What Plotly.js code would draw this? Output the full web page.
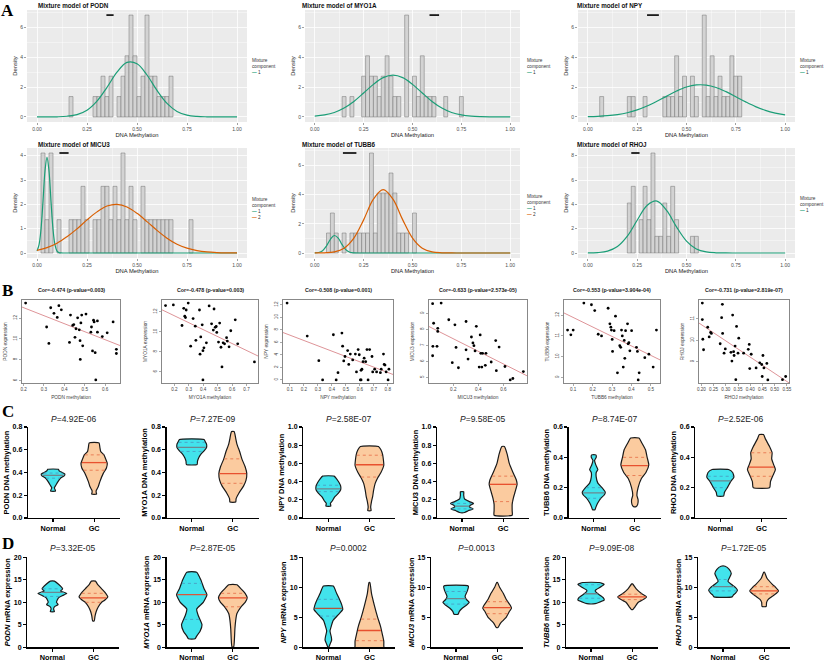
<!DOCTYPE html>
<html><head><meta charset="utf-8">
<script src="https://cdn.plot.ly/plotly-3.0.1.min.js"></script>
<style>html,body{margin:0;padding:0;background:#fff}#chart{width:824px;height:663px}</style>
</head><body><div id="chart"></div>
<script>
// ================= DATA =================
const genes = ['PODN','MYO1A','NPY','MICU3','TUBB6','RHOJ'];

// ---- Panel A: histograms (bin centres, density) ----
const binWidth = 0.02;
const histX_PODN = [0.17,0.29,0.31,0.33,0.35,0.37,0.41,0.43,0.45,0.47,0.49,0.51,0.53,0.55,0.57,0.59,0.61,0.63,0.65,0.67];
const histD_PODN = [1.37,1.37,1.37,2.74,1.37,2.74,1.37,2.74,4.11,6.85,4.11,1.37,2.74,6.85,2.74,2.74,1.37,1.37,1.37,2.74];
const histX_MYO1A = [0.15,0.19,0.25,0.27,0.29,0.31,0.33,0.35,0.37,0.39,0.41,0.43,0.47,0.51,0.53,0.55,0.57,0.59,0.61,0.67,0.75];
const histD_MYO1A = [1.37,1.37,2.74,4.11,2.74,2.74,1.37,2.74,4.11,2.74,1.37,1.37,6.85,2.74,1.37,4.11,1.37,1.37,1.37,1.37,1.37];
const histX_NPY = [0.07,0.21,0.23,0.29,0.39,0.41,0.43,0.45,0.47,0.49,0.53,0.55,0.59,0.61,0.63,0.65,0.67,0.69,0.71,0.73,0.75,0.77];
const histD_NPY = [1.37,1.37,1.37,1.37,1.37,1.37,1.37,4.11,1.37,2.74,2.74,1.37,6.85,1.37,4.11,1.37,2.74,1.37,1.37,4.11,2.74,2.74];
const histX_MICU3 = [0.03,0.05,0.07,0.11,0.17,0.19,0.21,0.23,0.25,0.29,0.31,0.33,0.35,0.37,0.39,0.41,0.43,0.45,0.47,0.49,0.53,0.55,0.57,0.59,0.61,0.63,0.65,0.67,0.77];
const histD_MICU3 = [4.11,1.37,4.11,1.37,1.37,1.37,1.37,2.74,1.37,1.37,1.37,2.74,2.74,1.37,2.74,1.37,4.11,1.37,2.74,1.37,2.74,1.37,1.37,1.37,1.37,1.37,1.37,1.37,1.37];
const histX_TUBB6 = [0.07,0.09,0.11,0.15,0.19,0.21,0.23,0.25,0.27,0.29,0.31,0.33,0.35,0.37,0.39,0.41,0.43,0.45,0.47,0.51];
const histD_TUBB6 = [1.37,2.74,1.37,1.37,1.37,1.37,1.37,1.37,1.37,6.85,1.37,4.11,4.11,4.11,5.48,4.11,1.37,1.37,1.37,2.74];
const histX_RHOJ = [0.21,0.23,0.27,0.29,0.31,0.33,0.35,0.37,0.39,0.41,0.43,0.45,0.53,0.55];
const histD_RHOJ = [4.11,5.48,2.74,5.48,2.74,8.22,1.37,1.37,4.11,1.37,5.48,2.74,1.37,1.37];

// ---- Panel A: mixture component density curves ----
const xGrid = [0,0.05,0.1,0.15,0.2,0.25,0.3,0.35,0.4,0.45,0.5,0.55,0.6,0.65,0.7,0.75,0.8,0.85,0.9,0.95,1];
const curvePODN_1  = [0,0.002,0.009,0.043,0.155,0.45,1.06,1.99,3.01,3.67,3.58,2.82,1.78,0.91,0.37,0.12,0.032,0.007,0.001,0,0];
const curveMYO1A_1 = [0.053,0.135,0.30,0.60,1.04,1.61,2.19,2.64,2.81,2.64,2.19,1.61,1.04,0.60,0.30,0.135,0.053,0.019,0.006,0.002,0];
const curveNPY_1   = [0.018,0.039,0.08,0.156,0.28,0.47,0.73,1.05,1.40,1.74,2.01,2.15,2.14,1.98,1.70,1.36,1.01,0.69,0.44,0.26,0.14];
const curveMICU3_1x = [0,0.01,0.02,0.03,0.04,0.05,0.06,0.07,0.08,0.09,0.10,0.11,0.12,0.14,0.2,0.3,0.4,0.5,0.6,0.7,0.8,0.9,1.0];
const curveMICU3_1  = [0.08,0.33,0.98,2.12,3.37,3.93,3.37,2.12,0.98,0.33,0.08,0.015,0.002,0,0,0,0,0,0,0,0,0,0];
const curveMICU3_2  = [0.11,0.22,0.40,0.67,0.99,1.36,1.69,1.93,2.0,1.89,1.63,1.29,0.93,0.61,0.36,0.2,0.10,0.045,0.019,0.007,0.002];
const curveTUBB6_1x = [0,0.02,0.04,0.06,0.08,0.10,0.12,0.14,0.16,0.18,0.20,0.25,0.3,0.4,0.5,0.6,0.7,0.8,0.9,1.0];
const curveTUBB6_1  = [0.005,0.036,0.16,0.48,0.94,1.2,1.02,0.57,0.21,0.05,0.008,0,0,0,0,0,0,0,0,0];
const curveTUBB6_2  = [0.002,0.013,0.077,0.33,1.02,2.27,3.69,4.34,3.69,2.27,1.02,0.33,0.077,0.013,0.002,0,0,0,0,0,0];
const curveRHOJ_1   = [0.005,0.033,0.154,0.53,1.38,2.69,3.91,4.27,3.48,2.13,0.98,0.33,0.086,0.017,0.003,0,0,0,0,0,0];
// short black segments at the top of each histogram
const segStart = [0.347,0.587,0.30,0.112,0.144,0.22];
const segEnd   = [0.383,0.636,0.36,0.158,0.213,0.262];

// ---- Panel B: scatter (methylation vs expression) ----
const corTitles = ['Cor=-0.474 (p-value=0.003)','Cor=-0.478 (p-value=0.003)','Cor=-0.508 (p-value=0.001)',
                   'Cor=-0.633 (p-value=2.573e-05)','Cor=-0.553 (p-value=3.904e-04)','Cor=-0.731 (p-value=2.819e-07)'];
const scatX_PODN = [0.21,0.313,0.324,0.333,0.349,0.365,0.373,0.385,0.425,0.43,0.441,0.446,0.452,0.457,0.465,0.473,0.477,0.478,0.481,0.485,0.49,0.506,0.53,0.533,0.538,0.543,0.546,0.551,0.554,0.562,0.562,0.586,0.61,0.639,0.655,0.655];
const scatY_PODN = [13.45,11.15,9.57,13.0,12.46,12.07,13.2,12.8,9.67,12.3,11.3,11.38,10.16,10.98,12.03,10.88,9.83,8.03,11.54,12.3,9.34,12.39,10.65,11.15,8.85,11.8,11.64,8.68,6.06,10.65,11.73,10.23,10.59,11.64,9.0,8.6];
const scatX_MYO1A = [0.139,0.193,0.253,0.265,0.272,0.277,0.282,0.296,0.313,0.330,0.345,0.349,0.374,0.378,0.383,0.393,0.398,0.405,0.422,0.441,0.458,0.470,0.475,0.483,0.49,0.494,0.506,0.514,0.523,0.530,0.538,0.548,0.562,0.567,0.579,0.591,0.622,0.639,0.755,0.398];
const scatY_MYO1A = [12.62,12.69,10.63,12.35,11.56,11.42,12.18,12.87,8.57,11.32,10.56,9.15,12.18,7.77,9.49,10.7,8.12,8.4,8.9,12.59,10.8,10.18,12.28,10.45,10.53,9.94,8.98,10.87,8.46,6.5,8.9,8.8,9.42,9.08,8.5,10.11,11.2,8.8,7.0,5.2];
const scatX_NPY = [0.080,0.224,0.307,0.334,0.411,0.431,0.444,0.472,0.477,0.485,0.494,0.513,0.521,0.532,0.549,0.568,0.576,0.588,0.596,0.604,0.609,0.609,0.615,0.623,0.631,0.642,0.651,0.659,0.670,0.687,0.692,0.706,0.720,0.747,0.753,0.769,0.774,0.780,0.788,0.802,0.808];
const scatY_NPY = [12.27,7.0,3.08,0,7.21,0,1.16,7.48,5.39,3.03,3.74,4.68,2.48,4.13,3.19,4.13,1.27,4.84,4.02,0,0,1.54,1.71,2.92,3.47,2.92,4.84,0,4.84,3.74,1.27,1.71,1.27,1.16,1.71,4.13,2.48,2.37,1.27,0,1.71];
const scatX_MICU3 = [0.035,0.043,0.076,0.076,0.103,0.037,0.035,0.070,0.164,0.192,0.213,0.222,0.241,0.302,0.302,0.318,0.345,0.357,0.365,0.374,0.384,0.407,0.415,0.420,0.428,0.434,0.456,0.461,0.503,0.539,0.544,0.566,0.613,0.655,0.676,0.76];
const scatY_MICU3 = [9.61,8.39,8.07,7.88,9.65,6.95,6.36,6.95,8.61,5.93,8.29,6.88,5.61,8.5,6.73,6.15,7.53,7.16,6.99,6.66,8.2,5.65,7.66,6.51,5.65,6.51,5.76,6.51,5.97,7.31,5.43,6.9,5.69,4.85,4.94,5.37];
const scatX_TUBB6 = [0.071,0.088,0.1,0.155,0.194,0.211,0.229,0.246,0.280,0.289,0.294,0.297,0.301,0.303,0.311,0.318,0.328,0.340,0.345,0.349,0.353,0.358,0.363,0.366,0.370,0.380,0.383,0.387,0.392,0.401,0.426,0.431,0.435,0.440,0.469,0.490,0.512,0.529];
const scatY_TUBB6 = [11.28,11.05,11.28,12.58,12.5,12.22,11.08,11.0,12.33,11.58,11.42,11.28,10.83,10.25,11.25,11.95,9.22,10.53,10.45,11.28,11.0,9.5,10.78,9.92,11.25,11.58,10.62,10.67,10.28,11.25,10.45,10.25,8.88,9.22,9.95,10.12,9.5,11.28];
const scatX_RHOJ = [0.204,0.204,0.206,0.209,0.226,0.232,0.238,0.241,0.277,0.283,0.286,0.287,0.293,0.298,0.321,0.325,0.328,0.332,0.334,0.338,0.341,0.344,0.350,0.353,0.373,0.392,0.396,0.398,0.404,0.424,0.439,0.447,0.449,0.452,0.456,0.468,0.472,0.532,0.545];
const scatY_RHOJ = [11.74,10.97,10.05,9.56,10.61,10.16,10.37,10.32,9.84,11.06,11.68,10.32,9.4,9.6,9.44,9.03,11.18,9.47,9.29,9.73,8.16,10.65,9.4,10.1,9.4,9.58,9.81,8.68,9.35,8.71,8.95,8.87,8.31,9.29,8.71,8.92,8.15,8.16,8.31];

// ---- Panels C & D: violin outlines (value levels, half-widths) and quartiles [Q1, median, Q3] ----
const groups = ['Normal','GC'];
const cPvalues = ['4.92E-06','7.27E-09','2.58E-07','9.58E-05','8.74E-07','2.52E-06'];
const dPvalues = ['3.32E-05','2.87E-05','0.0002','0.0013','9.09E-08','1.72E-05'];

const vC_PODN_N_y = [0.236,0.25,0.265,0.29,0.32,0.35,0.37,0.385,0.40,0.415,0.428];
const vC_PODN_N_w = [0.06,0.05,0.03,0.07,0.12,0.18,0.27,0.29,0.22,0.15,0.13];
const vC_PODN_N_q = [0.35,0.375,0.395];
const vC_PODN_G_y = [0.21,0.225,0.24,0.275,0.32,0.39,0.44,0.48,0.52,0.555,0.585,0.62,0.66];
const vC_PODN_G_w = [0.06,0.05,0.05,0.10,0.14,0.22,0.30,0.32,0.28,0.24,0.16,0.14,0.12];
const vC_PODN_G_q = [0.42,0.487,0.555];
const vC_MYO1A_N_y = [0.47,0.50,0.53,0.56,0.59,0.62,0.65,0.67,0.69];
const vC_MYO1A_N_w = [0.13,0.14,0.17,0.22,0.30,0.36,0.36,0.33,0.30];
const vC_MYO1A_N_q = [0.585,0.62,0.665];
const vC_MYO1A_G_y = [0.14,0.17,0.22,0.28,0.33,0.39,0.45,0.52,0.58,0.65,0.70,0.74,0.76];
const vC_MYO1A_G_w = [0.07,0.08,0.15,0.26,0.32,0.34,0.30,0.22,0.17,0.10,0.07,0.05,0.03];
const vC_MYO1A_G_q = [0.305,0.39,0.52];
const vC_NPY_N_y = [0.13,0.16,0.19,0.23,0.27,0.31,0.35,0.39,0.43,0.46];
const vC_NPY_N_w = [0.06,0.05,0.10,0.15,0.24,0.30,0.30,0.26,0.20,0.14];
const vC_NPY_N_q = [0.29,0.32,0.36];
const vC_NPY_G_y = [0.08,0.12,0.18,0.24,0.30,0.38,0.44,0.50,0.58,0.64,0.70,0.75,0.786];
const vC_NPY_G_w = [0.04,0.03,0.05,0.08,0.10,0.14,0.20,0.28,0.35,0.34,0.32,0.28,0.22];
const vC_NPY_G_q = [0.45,0.585,0.69];
const vC_MICU3_N_y = [0.06,0.08,0.10,0.12,0.14,0.16,0.18,0.21,0.25,0.288];
const vC_MICU3_N_w = [0.06,0.15,0.27,0.18,0.20,0.28,0.18,0.06,0.04,0.04];
const vC_MICU3_N_q = [0.10,0.13,0.16];
const vC_MICU3_G_y = [0.03,0.08,0.15,0.22,0.30,0.37,0.42,0.50,0.60,0.70,0.786];
const vC_MICU3_G_w = [0.22,0.22,0.22,0.25,0.30,0.34,0.32,0.24,0.15,0.10,0.03];
const vC_MICU3_G_q = [0.18,0.37,0.46];
const vC_TUBB6_N_y = [0.055,0.07,0.10,0.13,0.15,0.17,0.20,0.23,0.27,0.30,0.32,0.35,0.38,0.40,0.416];
const vC_TUBB6_N_w = [0.03,0.05,0.10,0.17,0.25,0.28,0.20,0.10,0.06,0.06,0.10,0.05,0.02,0.06,0.05];
const vC_TUBB6_N_q = [0.13,0.165,0.20];
const vC_TUBB6_G_y = [0.075,0.09,0.12,0.15,0.20,0.26,0.30,0.35,0.40,0.45,0.50,0.527];
const vC_TUBB6_G_w = [0.03,0.07,0.08,0.05,0.08,0.16,0.27,0.34,0.30,0.26,0.16,0.10];
const vC_TUBB6_G_q = [0.28,0.345,0.40];
const vC_RHOJ_N_y = [0.145,0.17,0.20,0.24,0.27,0.30,0.32];
const vC_RHOJ_N_w = [0.08,0.10,0.17,0.25,0.33,0.30,0.20];
const vC_RHOJ_N_q = [0.20,0.245,0.275];
const vC_RHOJ_G_y = [0.20,0.24,0.28,0.32,0.35,0.39,0.43,0.47,0.52,0.55];
const vC_RHOJ_G_w = [0.20,0.22,0.28,0.34,0.30,0.25,0.26,0.20,0.10,0.05];
const vC_RHOJ_G_q = [0.275,0.335,0.43];

const vD_PODN_N_y = [7.9,8.5,9.0,9.5,10.0,11.0,11.5,12.0,12.5,13.0,14.0,14.7];
const vD_PODN_N_w = [0.05,0.03,0.05,0.14,0.10,0.15,0.25,0.35,0.20,0.25,0.15,0.05];
const vD_PODN_N_q = [11.3,12.2,13.0];
const vD_PODN_G_y = [5.9,7.0,8.0,9.0,10.0,10.5,11.2,12.0,13.0,14.0,14.7];
const vD_PODN_G_w = [0.02,0.04,0.07,0.12,0.20,0.28,0.35,0.30,0.20,0.10,0.05];
const vD_PODN_G_q = [10.0,11.0,12.0];
const vD_MYO1A_N_y = [1.9,2.5,3.5,5.0,7.0,8.5,10.0,11.7,13.0,15.0,16.7];
const vD_MYO1A_N_w = [0.08,0.12,0.20,0.25,0.16,0.12,0.28,0.37,0.30,0.22,0.12];
const vD_MYO1A_N_q = [6.2,11.7,14.2];
const vD_MYO1A_G_y = [0.1,2.0,4.0,6.0,7.5,9.0,10.0,11.0,12.0,13.0,13.9];
const vD_MYO1A_G_w = [0.02,0.04,0.05,0.07,0.10,0.20,0.30,0.35,0.30,0.20,0.10];
const vD_MYO1A_G_q = [9.0,11.0,12.0];
const vD_NPY_N_y = [0.0,0.5,1.2,1.8,2.7,3.5,4.5,5.5,6.3,7.0,8.0,9.0,10.2];
const vD_NPY_N_w = [0.01,0.04,0.08,0.07,0.04,0.07,0.12,0.25,0.35,0.33,0.27,0.20,0.12];
const vD_NPY_N_q = [5.2,6.5,8.0];
const vD_NPY_G_y = [0.0,0.3,1.0,2.0,3.5,5.0,7.0,9.0,10.8];
const vD_NPY_G_w = [0.35,0.35,0.35,0.32,0.27,0.20,0.12,0.05,0.01];
const vD_NPY_G_q = [1.1,2.8,4.7];
const vD_MICU3_N_y = [5.5,6.0,6.5,7.0,7.5,8.0,8.5,9.5,10.2];
const vD_MICU3_N_w = [0.05,0.08,0.15,0.25,0.32,0.25,0.22,0.28,0.30];
const vD_MICU3_N_q = [7.2,8.1,9.3];
const vD_MICU3_G_y = [3.3,4.0,4.5,5.0,6.0,6.5,7.0,8.0,9.0,10.0,10.8];
const vD_MICU3_G_w = [0.02,0.08,0.15,0.22,0.30,0.35,0.32,0.22,0.15,0.06,0.01];
const vD_MICU3_G_q = [5.6,6.6,7.6];
const vD_TUBB6_N_y = [9.7,10.0,10.5,11.0,12.0,12.5,12.8,13.5,14.0,14.4];
const vD_TUBB6_N_w = [0.10,0.20,0.32,0.30,0.15,0.10,0.12,0.25,0.32,0.20];
const vD_TUBB6_N_q = [10.9,11.9,13.9];
const vD_TUBB6_G_y = [8.4,9.0,10.0,10.5,11.2,12.0,13.0,14.1];
const vD_TUBB6_G_w = [0.02,0.07,0.15,0.25,0.35,0.22,0.10,0.01];
const vD_TUBB6_G_q = [10.6,11.2,11.8];
const vD_RHOJ_N_y = [8.4,8.7,9.0,9.5,10.0,10.5,11.0,11.5,12.3,13.0,13.5];
const vD_RHOJ_N_w = [0.22,0.25,0.30,0.35,0.30,0.20,0.12,0.15,0.20,0.15,0.05];
const vD_RHOJ_N_q = [9.4,10.1,11.3];
const vD_RHOJ_G_y = [6.8,7.5,8.0,8.5,9.0,9.4,10.0,10.5,11.5,12.5];
const vD_RHOJ_G_w = [0.05,0.06,0.10,0.20,0.30,0.35,0.28,0.20,0.07,0.01];
const vD_RHOJ_G_q = [8.9,9.4,10.1];

// ================= BUILD =================
const W = 824, H = 663;
const GREEN = '#1B9E77', ORANGE = '#D95F02';
const traces = [];
const layout = {
  width: W, height: H, margin: {l:0, r:0, t:0, b:0, pad:0},
  paper_bgcolor: '#ffffff', plot_bgcolor: 'rgba(0,0,0,0)', showlegend: false,
  font: {family: '"Liberation Sans", Arial, sans-serif', color: '#000'},
  annotations: [], shapes: [], bargap: 0
};
function ref(i, c){ return c + (i === 1 ? '' : String(i)); }
function key(i, c){ return c + 'axis' + (i === 1 ? '' : String(i)); }
function domX(a, b){ return [a / W, b / W]; }
function domY(top, bot){ return [1 - bot / H, 1 - top / H]; }
function note(x, y, text, font, extra){
  layout.annotations.push(Object.assign({xref:'paper', yref:'paper', x: x / W, y: 1 - y / H, text: text,
    showarrow:false, font: font, xanchor:'center', yanchor:'middle'}, extra || {}));
}

// ---------- Panel A ----------
const aHistX = [histX_PODN, histX_MYO1A, histX_NPY, histX_MICU3, histX_TUBB6, histX_RHOJ];
const aHistD = [histD_PODN, histD_MYO1A, histD_NPY, histD_MICU3, histD_TUBB6, histD_RHOJ];
const aCurves = [
  [{x:xGrid, y:curvePODN_1, c:GREEN}],
  [{x:xGrid, y:curveMYO1A_1, c:GREEN}],
  [{x:xGrid, y:curveNPY_1, c:GREEN}],
  [{x:curveMICU3_1x, y:curveMICU3_1, c:GREEN}, {x:xGrid, y:curveMICU3_2, c:ORANGE}],
  [{x:curveTUBB6_1x, y:curveTUBB6_1, c:GREEN}, {x:xGrid, y:curveTUBB6_2, c:ORANGE}],
  [{x:xGrid, y:curveRHOJ_1, c:GREEN}]
];
const aBoxes = [[27,247,10,122],[305,520,10,122],[578,795,10,122],[27,247,148,258],[305,520,148,258],[578,795,148,258]];
const aTitleX = [36,300,575,36,300,575];
const aTitleY = [6,6,6,144,144,144];
const aLegX = [250,525,798,250,525,798];
const aLegTop = [56,56,56,194.5,192,194];
const aYdtick = [2,2,2,1,2,2];

for (let k = 0; k < 6; k++) {
  const i = k + 1, xa = ref(i,'x'), ya = ref(i,'y');
  traces.push({type:'bar', x:aHistX[k], y:aHistD[k], width:binWidth, xaxis:xa, yaxis:ya,
    marker:{color:'#D3D3D3', line:{color:'#707070', width:0.5}}, hoverinfo:'skip'});
  aCurves[k].forEach(c => traces.push({type:'scatter', mode:'lines', x:c.x, y:c.y, xaxis:xa, yaxis:ya,
    line:{color:c.c, width:1.2, shape:'spline', smoothing:1}, hoverinfo:'skip'}));
  const top = Math.max(...aHistD[k]);
  traces.push({type:'scatter', mode:'lines', x:[segStart[k], segEnd[k]], y:[top, top], xaxis:xa, yaxis:ya,
    line:{color:'#000', width:1.6}, hoverinfo:'skip'});
  const m = Math.max(top, ...aCurves[k].map(c => Math.max(...c.y)));
  const b = aBoxes[k];
  layout[key(i,'x')] = {domain:domX(b[0], b[1]), anchor:ya, range:[-0.05, 1.05], tickmode:'linear', tick0:0, dtick:0.25,
    tickformat:'.2f', showgrid:true, gridcolor:'#ffffff', gridwidth:0.8,
    minor:{dtick:0.125, tick0:0, showgrid:true, gridcolor:'#ffffff', gridwidth:0.4, ticks:''},
    zeroline:false, showline:false, ticks:'outside', ticklen:2, tickwidth:0.5, tickcolor:'#444',
    tickfont:{size:5, color:'#4d4d4d'}, title:{text:'DNA Methylation', font:{size:5.8, color:'#222'}, standoff:1}};
  layout[key(i,'y')] = {domain:domY(b[2], b[3]), anchor:xa, range:[-0.05*m, 1.05*m], tickmode:'linear', tick0:0, dtick:aYdtick[k],
    showgrid:true, gridcolor:'#ffffff', gridwidth:0.8,
    minor:{dtick:aYdtick[k]/2, tick0:0, showgrid:true, gridcolor:'#ffffff', gridwidth:0.4, ticks:''},
    zeroline:false, showline:false, ticks:'outside', ticklen:2, tickwidth:0.5, tickcolor:'#444',
    tickfont:{size:5, color:'#4d4d4d'}, title:{text:'Density', font:{size:5.8, color:'#222'}, standoff:2}};
  layout.shapes.push({type:'rect', xref:xa + ' domain', yref:ya + ' domain', x0:0, x1:1, y0:0, y1:1,
    fillcolor:'#EBEBEB', line:{width:0}, layer:'below'});
  note(aTitleX[k], aTitleY[k], '<b>Mixture model of ' + genes[k] + '</b>', {size:6.3, color:'#111'}, {xanchor:'left'});
  let legText = 'Mixture<br>component';
  aCurves[k].forEach((c, j) => { legText += '<br><span style="color:' + c.c + '"><b>—</b></span> ' + (j + 1); });
  note(aLegX[k], aLegTop[k], legText, {size:4.7, color:'#333'}, {xanchor:'left', yanchor:'top', align:'left'});
}

// ---------- Panel B ----------
const bX = [scatX_PODN, scatX_MYO1A, scatX_NPY, scatX_MICU3, scatX_TUBB6, scatX_RHOJ];
const bY = [scatY_PODN, scatY_MYO1A, scatY_NPY, scatY_MICU3, scatY_TUBB6, scatY_RHOJ];
const bBoxes = [[22,120,300,383],[162,258,300,383],[283,393,300,383],[429,527,300,383],[564,660,300,383],[699,789,300,383]];
const bDtX = [0.1,0.1,0.1,0.2,0.1,0.05];
const bFmtX = ['.1f','.1f','.1f','.1f','.1f','.2f'];
const bDtY = [2,2,2,1,1,1];
function rRange(v){ const lo = Math.min(...v), hi = Math.max(...v), r = hi - lo; return [lo - 0.04*r, hi + 0.04*r]; }
for (let k = 0; k < 6; k++) {
  const i = k + 7, xa = ref(i,'x'), ya = ref(i,'y');
  const xs = bX[k], ys = bY[k], n = xs.length;
  const mx = xs.reduce((a,b)=>a+b,0)/n, my = ys.reduce((a,b)=>a+b,0)/n;
  let sxy = 0, sxx = 0;
  for (let j = 0; j < n; j++) { sxy += (xs[j]-mx)*(ys[j]-my); sxx += (xs[j]-mx)*(xs[j]-mx); }
  const slope = sxy / sxx, icpt = my - slope*mx;
  const rx = rRange(xs), ry = rRange(ys);
  traces.push({type:'scatter', mode:'lines', x:[rx[0], rx[1]], y:[icpt + slope*rx[0], icpt + slope*rx[1]],
    xaxis:xa, yaxis:ya, line:{color:'rgb(222,148,152)', width:1}, hoverinfo:'skip'});
  traces.push({type:'scatter', mode:'markers', x:xs, y:ys, xaxis:xa, yaxis:ya,
    marker:{color:'#000', size:2.8}, hoverinfo:'skip'});
  const b = bBoxes[k];
  layout[key(i,'x')] = {domain:domX(b[0], b[1]), anchor:ya, range:rx, tickmode:'linear', tick0:0, dtick:bDtX[k],
    tickformat:bFmtX[k], showgrid:false, zeroline:false, showline:true, mirror:true, linecolor:'#555', linewidth:0.7,
    ticks:'outside', ticklen:2, tickwidth:0.5, tickcolor:'#555', tickfont:{size:4.6, color:'#444'},
    title:{text:genes[k] + ' methylation', font:{size:4.8, color:'#444'}, standoff:4}};
  layout[key(i,'y')] = {domain:domY(b[2], b[3]), anchor:xa, range:ry, tickmode:'linear', tick0:0, dtick:bDtY[k],
    showgrid:false, zeroline:false, showline:true, mirror:true, linecolor:'#555', linewidth:0.7,
    ticks:'outside', ticklen:2, tickwidth:0.5, tickcolor:'#555', tickangle:-90, tickfont:{size:4.6, color:'#444'},
    title:{text:genes[k] + ' expression', font:{size:4.8, color:'#444'}, standoff:5}};
  layout.annotations.push({xref:xa + ' domain', yref:ya + ' domain', x:0.5, y:1 + 10/83, text:'<b>' + corTitles[k] + '</b>',
    showarrow:false, font:{size:5.3, color:'#222'}, xanchor:'center', yanchor:'middle'});
}

// ---------- Panels C and D ----------
const NORMAL_FILL = '#42E3EC', GC_FILL = '#FBCB9F';
function hwAt(ys, ws, v){
  if (v <= ys[0]) return ws[0];
  for (let k = 1; k < ys.length; k++) {
    if (v <= ys[k]) { const t = (v - ys[k-1]) / (ys[k] - ys[k-1]); return ws[k-1] + t*(ws[k] - ws[k-1]); }
  }
  return ws[ws.length - 1];
}
function addViolin(i, center, ys, ws, q, fill, medCol, qCol){
  const xa = ref(i,'x'), ya = ref(i,'y');
  const px = [], py = [];
  for (let k = 0; k < ys.length; k++) { px.push(center - ws[k]); py.push(ys[k]); }
  for (let k = ys.length - 1; k >= 0; k--) { px.push(center + ws[k]); py.push(ys[k]); }
  px.push(px[0]); py.push(py[0]);
  traces.push({type:'scatter', mode:'lines', x:px, y:py, xaxis:xa, yaxis:ya, fill:'toself', fillcolor:fill,
    line:{color:'#1a1a1a', width:1.2, shape:'spline', smoothing:0.5}, hoverinfo:'skip'});
  const h1 = hwAt(ys, ws, q[0]) * 0.95, hm = hwAt(ys, ws, q[1]) * 0.95, h3 = hwAt(ys, ws, q[2]) * 0.95;
  traces.push({type:'scatter', mode:'lines', x:[center-h1, center+h1, null, center-h3, center+h3], y:[q[0], q[0], null, q[2], q[2]],
    xaxis:xa, yaxis:ya, line:{color:qCol, width:0.9, dash:'dot'}, hoverinfo:'skip'});
  traces.push({type:'scatter', mode:'lines', x:[center-hm, center+hm], y:[q[1], q[1]],
    xaxis:xa, yaxis:ya, line:{color:medCol, width:1.3}, hoverinfo:'skip'});
}
const cViolins = [
  [vC_PODN_N_y, vC_PODN_N_w, vC_PODN_N_q, vC_PODN_G_y, vC_PODN_G_w, vC_PODN_G_q],
  [vC_MYO1A_N_y, vC_MYO1A_N_w, vC_MYO1A_N_q, vC_MYO1A_G_y, vC_MYO1A_G_w, vC_MYO1A_G_q],
  [vC_NPY_N_y, vC_NPY_N_w, vC_NPY_N_q, vC_NPY_G_y, vC_NPY_G_w, vC_NPY_G_q],
  [vC_MICU3_N_y, vC_MICU3_N_w, vC_MICU3_N_q, vC_MICU3_G_y, vC_MICU3_G_w, vC_MICU3_G_q],
  [vC_TUBB6_N_y, vC_TUBB6_N_w, vC_TUBB6_N_q, vC_TUBB6_G_y, vC_TUBB6_G_w, vC_TUBB6_G_q],
  [vC_RHOJ_N_y, vC_RHOJ_N_w, vC_RHOJ_N_q, vC_RHOJ_G_y, vC_RHOJ_G_w, vC_RHOJ_G_q]
];
const dViolins = [
  [vD_PODN_N_y, vD_PODN_N_w, vD_PODN_N_q, vD_PODN_G_y, vD_PODN_G_w, vD_PODN_G_q],
  [vD_MYO1A_N_y, vD_MYO1A_N_w, vD_MYO1A_N_q, vD_MYO1A_G_y, vD_MYO1A_G_w, vD_MYO1A_G_q],
  [vD_NPY_N_y, vD_NPY_N_w, vD_NPY_N_q, vD_NPY_G_y, vD_NPY_G_w, vD_NPY_G_q],
  [vD_MICU3_N_y, vD_MICU3_N_w, vD_MICU3_N_q, vD_MICU3_G_y, vD_MICU3_G_w, vD_MICU3_G_q],
  [vD_TUBB6_N_y, vD_TUBB6_N_w, vD_TUBB6_N_q, vD_TUBB6_G_y, vD_TUBB6_G_w, vD_TUBB6_G_q],
  [vD_RHOJ_N_y, vD_RHOJ_N_w, vD_RHOJ_N_q, vD_RHOJ_G_y, vD_RHOJ_G_w, vD_RHOJ_G_q]
];
const cLeft = [28,166.7,303.3,437,568.7,695.3];
const dLeft = [27.3,166.7,303.3,431,566,698];
const cTop = [0.8,0.8,1.0,1.0,0.6,0.6];
const dTop = [20,20,15,15,20,15];
const dNormalMed = ['#6d8790','#D9563A','#B5553A','#6d8790','#6d8790','#6d8790'];

function setupViolinAxes(i, left, yTop, yBot, top, dtick, fmt, ytitle){
  const xa = ref(i,'x'), ya = ref(i,'y');
  layout[key(i,'x')] = {domain:domX(left, left + 92), anchor:ya, range:[-0.61, 1.63], tickmode:'array', tickvals:[0,1], ticktext:groups,
    showgrid:false, zeroline:false, showline:true, linecolor:'#000', linewidth:1.3, ticks:'outside', ticklen:3, tickwidth:1.2,
    tickcolor:'#000', tickfont:{size:7.3, color:'#000', weight:'bold'}};
  layout[key(i,'y')] = {domain:domY(yTop, yBot), anchor:xa, range:[0, top], tickmode:'linear', tick0:0, dtick:dtick,
    tickformat:fmt, showgrid:false, zeroline:false, showline:true, linecolor:'#000', linewidth:1.3, ticks:'outside',
    ticklen:3, tickwidth:1.2, tickcolor:'#000', tickfont:{size:7, color:'#000', weight:'bold'},
    title:{text:ytitle, font:{size:7.5, color:'#000'}, standoff:2}};
}
for (let k = 0; k < 6; k++) {
  const i = k + 13;
  setupViolinAxes(i, cLeft[k], 427, 518, cTop[k], 0.2, '.1f', '<b>' + genes[k] + ' DNA methylation</b>');
  const v = cViolins[k];
  addViolin(i, 0, v[0], v[1], v[2], NORMAL_FILL, '#6d8790', '#4a9fc4');
  addViolin(i, 1, v[3], v[4], v[5], GC_FILL, '#E8512F', '#E8764F');
  layout.annotations.push({xref:ref(i,'x'), yref:'paper', x:0.5, y:1 - 418.5/H, text:'<i>P</i>=' + cPvalues[k],
    showarrow:false, font:{size:8.5, color:'#222'}, xanchor:'center', yanchor:'middle'});
}
for (let k = 0; k < 6; k++) {
  const i = k + 19;
  setupViolinAxes(i, dLeft[k], 557.3, 647.3, dTop[k], 5, 'd', '<b><i>' + genes[k] + '</i> mRNA expression</b>');
  const v = dViolins[k];
  addViolin(i, 0, v[0], v[1], v[2], NORMAL_FILL, dNormalMed[k], '#4a9fc4');
  addViolin(i, 1, v[3], v[4], v[5], GC_FILL, '#E8512F', '#E8764F');
  layout.annotations.push({xref:ref(i,'x'), yref:'paper', x:0.5, y:1 - 548/H, text:'<i>P</i>=' + dPvalues[k],
    showarrow:false, font:{size:8.5, color:'#222'}, xanchor:'center', yanchor:'middle'});
}

// panel letters
const letterFont = {family:'"Liberation Serif", "Times New Roman", serif', size:17, color:'#000'};
note(8, 10.5, '<b>A</b>', letterFont);
note(8, 290, '<b>B</b>', letterFont);
note(8, 411, '<b>C</b>', letterFont);
note(8, 543, '<b>D</b>', letterFont);

Plotly.newPlot('chart', traces, layout, {displayModeBar:false, staticPlot:true});
</script></body></html>
